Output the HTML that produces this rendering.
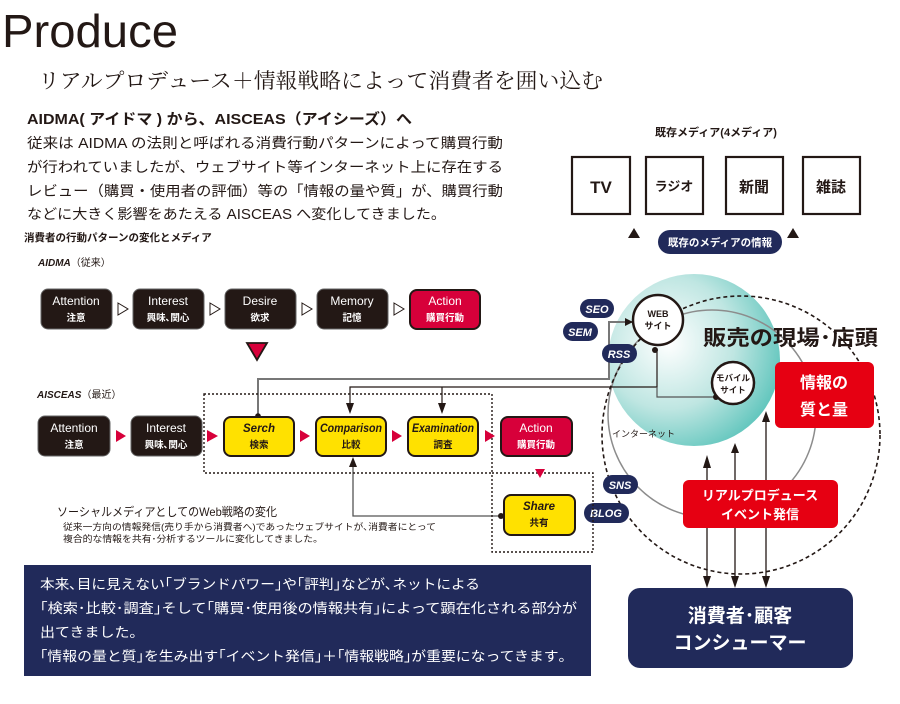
<!DOCTYPE html>
<html><head><meta charset="utf-8"><style>
html,body{margin:0;padding:0;background:#fff;}
svg{display:block;}
text{font-family:"Liberation Sans","Noto Sans CJK JP",sans-serif;}
</style></head><body>
<svg width="900" height="704" viewBox="0 0 900 704" xmlns="http://www.w3.org/2000/svg">
<defs>
<radialGradient id="tg" cx="0.35" cy="0.4" r="0.7">
<stop offset="0" stop-color="#ffffff"/><stop offset="0.55" stop-color="#bfe6e2"/><stop offset="1" stop-color="#5cc4bb"/>
</radialGradient>
<marker id="ah" markerWidth="8" markerHeight="8" refX="7" refY="4" orient="auto" markerUnits="userSpaceOnUse"><path d="M0,0 L8,4 L0,8z" fill="#231815"/></marker>
</defs>
<text x="2" y="47" font-size="46" fill="#231815" textLength="176" lengthAdjust="spacingAndGlyphs">Produce</text>
<text x="38" y="88" font-size="21" fill="#231815" style="font-family:'Liberation Serif','Noto Serif CJK SC',serif" textLength="565" lengthAdjust="spacingAndGlyphs">リアルプロデュース＋情報戦略によって消費者を囲い込む</text>
<text x="27" y="124" font-size="15" font-weight="bold" fill="#231815" textLength="385" lengthAdjust="spacingAndGlyphs">AIDMA( アイドマ ) から、AISCEAS（アイシーズ）へ</text>
<g font-size="14.3" fill="#231815">
<text x="27" y="148" textLength="476" lengthAdjust="spacingAndGlyphs">従来は AIDMA の法則と呼ばれる消費行動パターンによって購買行動</text>
<text x="27" y="172" textLength="476" lengthAdjust="spacingAndGlyphs">が行われていましたが、ウェブサイト等インターネット上に存在する</text>
<text x="27" y="196" textLength="476" lengthAdjust="spacingAndGlyphs">レビュー（購買・使用者の評価）等の「情報の量や質」が、購買行動</text>
<text x="27" y="219" textLength="419" lengthAdjust="spacingAndGlyphs">などに大きく影響をあたえる AISCEAS へ変化してきました。</text>
</g>
<text x="24" y="241" font-size="10.5" font-weight="bold" fill="#231815">消費者の行動パターンの変化とメディア</text>
<text x="38" y="266" font-size="10" font-style="italic" font-weight="bold" fill="#231815">AIDMA<tspan font-style="normal" font-weight="normal">（従来）</tspan></text>
<text x="37" y="398" font-size="10" font-style="italic" font-weight="bold" fill="#231815">AISCEAS<tspan font-style="normal" font-weight="normal">（最近）</tspan></text>

<!-- media -->
<text x="716" y="136" font-size="11" font-weight="bold" fill="#231815" text-anchor="middle">既存メディア(4メディア)</text>
<g fill="none" stroke="#231815" stroke-width="2.2">
<rect x="572" y="157" width="58" height="57"/><rect x="646" y="157" width="57" height="57"/>
<rect x="726" y="157" width="57" height="57"/><rect x="803" y="157" width="57" height="57"/>
</g>
<g font-weight="bold" fill="#231815" text-anchor="middle">
<text x="601" y="193" font-size="17">TV</text><text x="674" y="191" font-size="13">ラジオ</text>
<text x="754" y="192" font-size="15">新聞</text><text x="831" y="192" font-size="15">雑誌</text>
</g>
<rect x="658" y="230" width="124" height="24" rx="12" fill="#212a5a"/>
<text x="720" y="246" font-size="10.5" font-weight="bold" fill="#fff" text-anchor="middle">既存のメディアの情報</text>
<path d="M628,238 L634,228 L640,238z M787,238 L793,228 L799,238z" fill="#231815"/>

<!-- circles -->
<circle cx="694" cy="360" r="86" fill="url(#tg)"/>
<circle cx="712" cy="414" r="104" fill="none" stroke="#8c8c8c" stroke-width="1.5"/>
<circle cx="741" cy="435" r="139" fill="none" stroke="#231815" stroke-width="1.6" stroke-dasharray="4,3"/>
<text x="703" y="345" font-size="21" font-weight="bold" fill="#231815" textLength="175" lengthAdjust="spacingAndGlyphs">販売の現場･店頭</text>
<text x="612" y="437" font-size="9" fill="#231815">インターネット</text>

<!-- connectors -->
<g fill="none">
<path d="M258,416 L258,379 L609,379 L609,322 L632,322" stroke="#777" stroke-width="2" marker-end="url(#ah)"/>
<path d="M350,405 L350,387 L657,387 L657,350" stroke="#231815" stroke-width="1.2"/>
<path d="M657,387 L657,397 L716,397" stroke="#555" stroke-width="1.2"/>
<path d="M442,405 L442,387" stroke="#231815" stroke-width="1.2"/>
<path d="M501,516 L353,516 L353,462" stroke="#555" stroke-width="1.3"/>
</g>
<path d="M346,403 L350,414 L354,403z M438,403 L442,414 L446,403z M349,467 L353,457 L357,467z" fill="#231815"/>
<circle cx="258" cy="416" r="2.8" fill="#231815"/>
<circle cx="501" cy="516" r="3" fill="#231815"/>
<circle cx="655" cy="350" r="3" fill="#231815"/>
<circle cx="716" cy="397" r="3" fill="#231815"/>
<!-- vertical arrows -->
<g stroke="#231815" stroke-width="1.3">
<line x1="707" y1="458" x2="707" y2="582"/><line x1="735" y1="446" x2="735" y2="582"/><line x1="766" y1="414" x2="766" y2="582"/>
</g>
<path d="M703,468 L707,455 L711,468z M731,453 L735,443 L739,453z M762,422 L766,411 L770,422z M703,576 L707,588 L711,576z M731,576 L735,588 L739,576z M762,576 L766,588 L770,576z" fill="#231815"/>

<circle cx="658" cy="320" r="25" fill="#fff" stroke="#231815" stroke-width="2.5"/>
<text x="658" y="317" font-size="9" font-weight="bold" fill="#231815" text-anchor="middle">WEB</text>
<text x="658" y="329" font-size="9" font-weight="bold" fill="#231815" text-anchor="middle">サイト</text>
<circle cx="733" cy="383" r="21" fill="#fff" stroke="#231815" stroke-width="2.5"/>
<text x="733" y="381" font-size="8.5" font-weight="bold" fill="#231815" text-anchor="middle">モバイル</text>
<text x="733" y="393" font-size="8.5" font-weight="bold" fill="#231815" text-anchor="middle">サイト</text>

<rect x="775" y="362" width="99" height="66" rx="6" fill="#e60012"/>
<text x="824" y="388" font-size="16" font-weight="bold" fill="#fff" text-anchor="middle">情報の</text>
<text x="824" y="415" font-size="16" font-weight="bold" fill="#fff" text-anchor="middle">質と量</text>
<rect x="683" y="480" width="155" height="48" rx="6" fill="#e60012"/>
<text x="760" y="500" font-size="13" font-weight="bold" fill="#fff" text-anchor="middle">リアルプロデュース</text>
<text x="760" y="519" font-size="13" font-weight="bold" fill="#fff" text-anchor="middle">イベント発信</text>

<g fill="#212a5a">
<rect x="580" y="299" width="34" height="19" rx="9.5"/><rect x="563" y="322" width="35" height="19" rx="9.5"/>
<rect x="602" y="344" width="35" height="19" rx="9.5"/><rect x="603" y="475" width="35" height="19" rx="9.5"/>
<rect x="584" y="503" width="45" height="20" rx="10"/>
</g>
<g font-size="11" font-weight="bold" font-style="italic" fill="#fff" text-anchor="middle">
<text x="597" y="313">SEO</text><text x="580" y="336">SEM</text><text x="619" y="358">RSS</text>
<text x="620" y="489">SNS</text><text x="606" y="517">BLOG</text>
</g>

<rect x="628" y="588" width="225" height="80" rx="12" fill="#212a5a"/>
<text x="740" y="622" font-size="19" font-weight="bold" fill="#fff" text-anchor="middle">消費者･顧客</text>
<text x="740" y="649" font-size="19" font-weight="bold" fill="#fff" text-anchor="middle">コンシューマー</text>

<!-- row1 -->
<g fill="#231815" stroke="#666" stroke-width="1">
<rect x="41" y="289" width="71" height="40" rx="7"/><rect x="133" y="289" width="71" height="40" rx="7"/>
<rect x="225" y="289" width="71" height="40" rx="7"/><rect x="317" y="289" width="71" height="40" rx="7"/>
</g>
<rect x="410" y="290" width="70" height="39" rx="7" fill="#d7003a" stroke="#231815" stroke-width="2"/>
<g font-size="12" fill="#fff" text-anchor="middle">
<text x="76" y="305">Attention</text><text x="168" y="305">Interest</text><text x="260" y="305">Desire</text><text x="352" y="305">Memory</text><text x="445" y="305">Action</text>
</g>
<g font-size="9.5" font-weight="bold" fill="#fff" text-anchor="middle">
<text x="76" y="321">注意</text><text x="168" y="321">興味､関心</text><text x="260" y="321">欲求</text><text x="352" y="321">記憶</text><text x="445" y="321">購買行動</text>
</g>
<g fill="none" stroke="#231815" stroke-width="1"><path d="M118,303 L128,309 L118,315z M210,303 L220,309 L210,315z M302,303 L312,309 L302,315z M394,303 L404,309 L394,315z"/></g>
<path d="M247,343 L267,343 L257,360z" fill="#d7003a" stroke="#231815" stroke-width="1.8"/>

<!-- row2 -->
<g fill="none" stroke="#231815" stroke-width="1.4" stroke-dasharray="2,2">
<rect x="204" y="394" width="288" height="79"/>
<path d="M492,473 L593,473 L593,552 L492,552 L492,473"/>
</g>
<g fill="#231815" stroke="#666" stroke-width="1">
<rect x="38" y="416" width="72" height="40" rx="7"/><rect x="131" y="416" width="71" height="40" rx="7"/>
</g>
<g fill="#ffe100" stroke="#231815" stroke-width="2">
<rect x="224" y="417" width="70" height="39" rx="7"/><rect x="316" y="417" width="70" height="39" rx="7"/>
<rect x="408" y="417" width="70" height="39" rx="7"/><rect x="504" y="495" width="71" height="40" rx="7"/>
</g>
<rect x="501" y="417" width="71" height="39" rx="7" fill="#d7003a" stroke="#231815" stroke-width="2"/>
<g font-size="12" fill="#fff" text-anchor="middle">
<text x="74" y="432">Attention</text><text x="166" y="432">Interest</text><text x="536" y="432">Action</text>
</g>
<g font-size="11.5" font-weight="bold" font-style="italic" fill="#231815" text-anchor="middle">
<text x="259" y="432">Serch</text><text x="351" y="432" textLength="62" lengthAdjust="spacingAndGlyphs">Comparison</text><text x="443" y="432" textLength="62" lengthAdjust="spacingAndGlyphs">Examination</text><text x="539" y="510">Share</text>
</g>
<g font-size="9.5" font-weight="bold" text-anchor="middle">
<text x="74" y="448" fill="#fff">注意</text><text x="166" y="448" fill="#fff">興味､関心</text><text x="536" y="448" fill="#fff">購買行動</text>
<text x="259" y="448" fill="#231815">検索</text><text x="351" y="448" fill="#231815">比較</text><text x="443" y="448" fill="#231815">調査</text><text x="539" y="526" fill="#231815">共有</text>
</g>
<path d="M116,430 L126,436 L116,442z M207,430 L218,436 L207,442z M300,430 L310,436 L300,442z M392,430 L402,436 L392,442z M485,430 L495,436 L485,442z M535,469 L545,469 L540,478z" fill="#d7003a"/>

<text x="57" y="516" font-size="12" fill="#231815" textLength="220" lengthAdjust="spacingAndGlyphs">ソーシャルメディアとしてのWeb戦略の変化</text>
<text x="63" y="530" font-size="9" fill="#231815" textLength="373" lengthAdjust="spacingAndGlyphs">従来一方向の情報発信(売り手から消費者へ)であったウェブサイトが､消費者にとって</text>
<text x="63" y="542" font-size="9" fill="#231815" textLength="255" lengthAdjust="spacingAndGlyphs">複合的な情報を共有･分析するツールに変化してきました｡</text>

<rect x="24" y="565" width="567" height="111" fill="#212a5a"/>
<g font-size="13.5" fill="#fff">
<text x="40" y="589" textLength="440" lengthAdjust="spacingAndGlyphs">本来､目に見えない｢ブランドパワー｣や｢評判｣などが､ネットによる</text>
<text x="40" y="613" textLength="537" lengthAdjust="spacingAndGlyphs">｢検索･比較･調査｣そして｢購買･使用後の情報共有｣によって顕在化される部分が</text>
<text x="40" y="637" textLength="97" lengthAdjust="spacingAndGlyphs">出てきました｡</text>
<text x="40" y="661" textLength="526" lengthAdjust="spacingAndGlyphs">｢情報の量と質｣を生み出す｢イベント発信｣＋｢情報戦略｣が重要になってきます｡</text>
</g>
</svg>
</body></html>
